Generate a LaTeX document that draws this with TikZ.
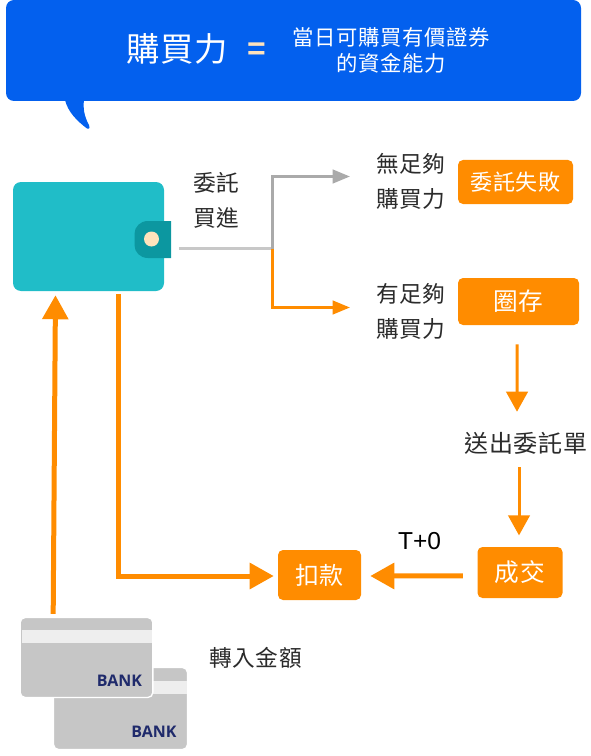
\documentclass[tikz,border=0pt]{standalone}
\usepackage{fontspec}
\usetikzlibrary{arrows.meta,calc}
\setmainfont{Noto Sans CJK TC}[LetterSpace=3]
\newfontfamily\latinfont{Liberation Sans}
\newfontfamily\cardfont{Open Sans}
\definecolor{bubbleblue}{HTML}{0360EE}
\definecolor{walletteal}{HTML}{20BDC8}
\definecolor{claspteal}{HTML}{0C97A0}
\definecolor{dotcream}{HTML}{FFE3BC}
\definecolor{flow}{HTML}{FF8C00}
\definecolor{greyline}{HTML}{AAAAAA}
\definecolor{greylight}{HTML}{C8C8C8}
\definecolor{cardgrey}{HTML}{C6C6C6}
\definecolor{stripe}{HTML}{EEEEEE}
\definecolor{navy}{HTML}{1F2A6B}
\definecolor{ink}{HTML}{2B2B2B}
\newcommand{\pxs}[2]{\fontsize{#1}{#2}\selectfont}
\tikzset{
  x=0.75pt,y=-0.75pt,
  actionbox/.style={fill=flow,rounded corners=3.75pt,text=white,inner sep=0pt,font=\pxs{17}{20}},
  lbl/.style={text=ink,inner sep=0pt,align=center,font=\pxs{17}{26.25}},
  thin arrow/.style={line width=2.25pt,-{Triangle[length=15pt,width=16pt]}},
  small arrow/.style={line width=2.25pt,-{Triangle[length=13pt,width=10pt]}},
  thick arrow/.style={line width=3.75pt,flow,-{Triangle[length=18pt,width=19pt]}},
  bankcard/.style={fill=cardgrey,draw=white,line width=1pt,rounded corners=3.75pt,minimum width=99.5pt,minimum height=60pt,inner sep=0pt},
  banktext/.style={text=navy,inner sep=0pt,font=\cardfont\bfseries\pxs{12}{14}},
}
\begin{document}
\begin{tikzpicture}
\useasboundingbox (0,0) rectangle (591,756);
% speech bubble
\fill[bubbleblue] (65,100) .. controls (68,112) and (77,121) .. (87,128.5) .. controls (90,129.5) and (90,127) .. (89,125) .. controls (84,116) and (83,108) .. (84,100) -- cycle;
\node[fill=bubbleblue,rounded corners=6pt,minimum width=431.25pt,minimum height=75.75pt,inner sep=0pt] (bubble) at (293.5,50.5) {};
\node[text=white,inner sep=0pt,font=\pxs{25}{26}] (title) at (177,49) {購買力};
\node[text=dotcream,inner sep=0pt,font=\latinfont\bfseries\pxs{24}{26}] (equals) at (256.5,51) {=};
\node[text=white,inner sep=0pt,align=center,font=\pxs{16}{19.5}] (def) at (391,50) {當日可購買有價證券\\的資金能力};
% wallet
\node[fill=walletteal,rounded corners=6pt,minimum width=113.25pt,minimum height=81.75pt,inner sep=0pt] (wallet) at (88.5,236.5) {};
\node[minimum width=27.5pt,minimum height=27.75pt,inner sep=0pt] (clasp) at (153,239.5) {};
\fill[claspteal] (171,221) -- (171,258) -- (148,258) .. controls (140,258) and (134.5,252) .. (134.5,245) -- (134.5,234) .. controls (134.5,227) and (140,221) .. (148,221) -- cycle;
\node[circle,fill=dotcream,minimum size=11.25pt,inner sep=0pt] (dot) at (151.5,239) {};
% labels
\node[lbl] (order) at (216.5,200.5) {委託\\買進};
\node[lbl] (nolbl) at (411,181) {無足夠\\購買力};
\node[lbl] (yeslbl) at (411,311.5) {有足夠\\購買力};
\node[lbl,minimum height=21pt,font=\pxs{18}{26.25}] (send) at (526,443) {送出委託單};
\node[lbl] (amount) at (255.5,658) {轉入金額};
\node[text=black,inner sep=0pt,font=\latinfont\pxs{18.4}{20}] (tzero) at (419.5,541) {T+0};
% action boxes
\node[actionbox,minimum width=86.25pt,minimum height=33pt,font=\pxs{16.5}{20}] (fail) at (515.5,182) {委託失敗};
\node[actionbox,minimum width=90.75pt,minimum height=35.25pt,font=\pxs{18.5}{22}] (hold) at (518.5,301.5) {圈存};
\node[actionbox,minimum width=63.75pt,minimum height=38.25pt,font=\pxs{18.5}{22}] (done) at (520,572.5) {成交};
\node[actionbox,minimum width=62.25pt,minimum height=37.5pt,font=\pxs{18}{22}] (pay) at (319.5,575) {扣款};
% bank cards
\node[bankcard,minimum width=100.5pt,minimum height=61.5pt] (card2) at (120.5,708.5) {};
\fill[stripe] (54.5,681) rectangle (186.5,694);
\node[bankcard] (card1) at (86.5,657.5) {};
\fill[stripe] (21.5,630) rectangle (151.5,643);
\node[banktext] (bank1) at (119.5,681) {BANK};
\node[banktext] (bank2) at (154,732) {BANK};
% connectors
\coordinate (fork) at (272,248.5);
\coordinate (forkup) at (272,176.5);
\coordinate (forkdown) at (272,307.5);
\draw[greylight,line width=2.25pt,shorten <=5.5pt] ([yshift=-6.75pt]clasp.east) -- (fork);
\draw[greyline,small arrow] (fork) -- (forkup) -- ([xshift=-19.5pt]forkup -| nolbl.west);
\draw[flow,small arrow] (fork) -- (forkdown) -- ([xshift=-19.5pt]forkdown -| yeslbl.west);
\draw[flow,thin arrow,shorten <=14.25pt,shorten >=12.75pt] ([xshift=-1.1pt]hold.south) -- ([xshift=-6.75pt]send.north);
\draw[flow,thin arrow,shorten <=7.5pt,shorten >=8.5pt] ([xshift=-5.25pt]send.south) -- ([xshift=-0.75pt]done.north);
\draw[thick arrow,shorten <=10.8pt,shorten >=6.75pt] ([yshift=-2.6pt]done.west) -- ([yshift=-0.75pt]pay.east);
\draw[thick arrow,shorten <=2.25pt,shorten >=3pt] ([xshift=22.5pt]wallet.south) |- ([yshift=-0.75pt]pay.west);
\draw[thick arrow,shorten <=2.25pt,shorten >=3pt] ([xshift=-25pt]card1.north) -- ([xshift=-24.75pt]wallet.south);
\end{tikzpicture}
\end{document}
